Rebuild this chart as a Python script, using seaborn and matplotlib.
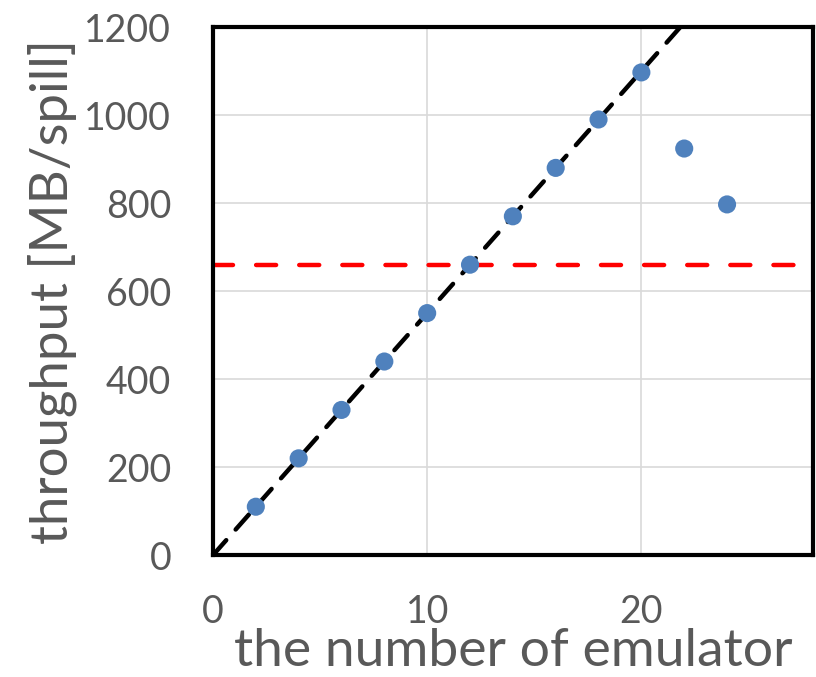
import matplotlib
matplotlib.use('Agg')
import matplotlib.pyplot as plt
import seaborn as sns
import pandas as pd

# datos
emuladores = [2, 4, 6, 8, 10, 12, 14, 16, 18, 20, 22, 24]
throughput = [110, 220, 330, 440, 550, 660, 770, 880, 990, 1097, 924, 797]
ajuste_x = [0, 24]
ajuste_y = [0, 1320]
limite = 660

df = pd.DataFrame({'n': emuladores, 'tp': throughput})
df_ajuste = pd.DataFrame({'n': ajuste_x, 'tp': ajuste_y})

sns.set_style('white')
plt.rcParams['font.family'] = ['Lato', 'DejaVu Sans']
gris = '#595959'

fig = plt.figure(figsize=(8.16, 6.77), dpi=100)
ax = fig.add_axes([0.261, 0.180, 0.735, 0.780])

ax.grid(True, color='#D9D9D9', linewidth=1.2)
ax.set_axisbelow(True)

sns.lineplot(data=df_ajuste, x='n', y='tp', ax=ax, color='black',
             linewidth=3.2, zorder=2)
ax.lines[-1].set_dashes((4.5, 3.2))
ax.lines[-1].set_dash_capstyle('round')
ax.axhline(limite, color='red', linewidth=3.2, dashes=(4.5, 5.2),
           dash_capstyle='round', zorder=2)
sns.scatterplot(data=df, x='n', y='tp', ax=ax, color='#4F81BD', s=170,
                edgecolor='none', zorder=3)

ax.set_xlim(0, 28)
ax.set_ylim(0, 1200)
ax.set_xticks([0, 10, 20])
ax.set_yticks(range(0, 1201, 200))
ax.tick_params(length=0, labelsize=27, labelcolor=gris)
ax.tick_params(axis='x', pad=28)
ax.tick_params(axis='y', pad=30)

for s in ax.spines.values():
    s.set_color('black')
    s.set_linewidth(3)

ax.set_xlabel('the number of emulator', fontsize=38.5, color=gris, va='baseline')
ax.set_ylabel('throughput [MB/spill]', fontsize=38, color=gris, labelpad=5)
ax.xaxis.set_label_coords(0.5, -0.210)

plt.savefig('out.png', dpi=100)
